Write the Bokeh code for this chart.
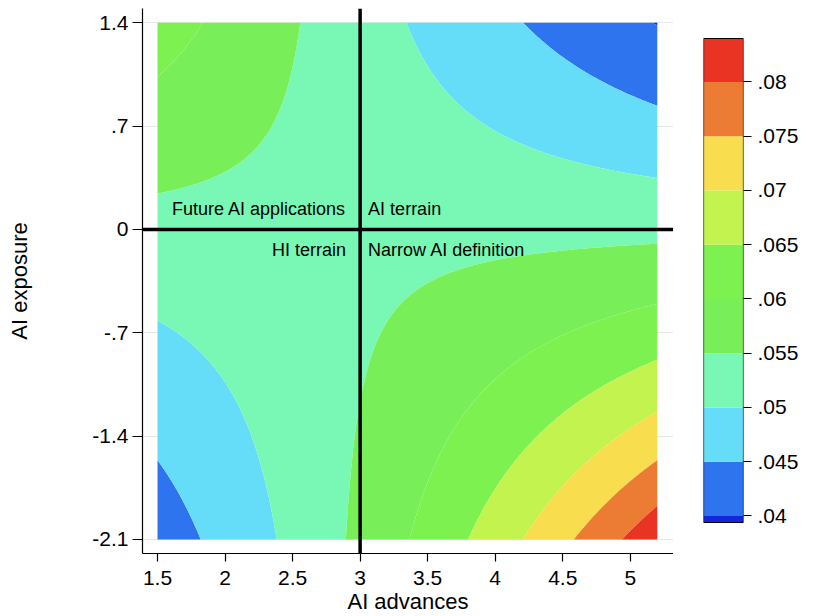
import numpy as np
from bokeh.plotting import figure
from bokeh.layouts import row
from bokeh.models import Range1d, FixedTicker, Span, Label
from bokeh.embed import file_html
from bokeh.resources import INLINE

# ---- data -----------------------------------------------------------------
# Fitted logit surface: logit(p) = b0 + b_adv*adv + b_exp*exp + b_int*adv*exp
b0 = -2.875
b_adv = 0.0018
b_exp = 0.256
b_int = -0.0927

adv_range = [1.5, 5.2]      # AI advances
exp_range = [-2.1, 1.4]     # AI exposure

levels = [0.0394, 0.04, 0.045, 0.05, 0.055, 0.06, 0.065, 0.07, 0.075, 0.08, 0.084]
colors = ["#1426d8", "#2f74ef", "#66ddf8", "#78f8b4", "#78ef58",
          "#7cf150", "#c2f34f", "#f8de4f", "#ec7b33", "#e93424"]

x_ticks = [1.5, 2, 2.5, 3, 3.5, 4, 4.5, 5]
x_tick_labels = ["1.5", "2", "2.5", "3", "3.5", "4", "4.5", "5"]
y_ticks = [-2.1, -1.4, -0.7, 0, 0.7, 1.4]
y_tick_labels = ["-2.1", "-1.4", "-.7", "0", ".7", "1.4"]
cbar_ticks = [0.04, 0.045, 0.05, 0.055, 0.06, 0.065, 0.07, 0.075, 0.08]
cbar_tick_labels = [".04", ".045", ".05", ".055", ".06", ".065", ".07", ".075", ".08"]

ref_x = 3.0
ref_y = 0.0
quadrant_labels = ["Future AI applications", "AI terrain", "HI terrain", "Narrow AI definition"]

FONT = "Liberation Sans"

# ---- surface ---------------------------------------------------------------
xs = np.linspace(adv_range[0], adv_range[1], 300)
ys = np.linspace(exp_range[0], exp_range[1], 300)
X, Y = np.meshgrid(xs, ys)
L = b0 + b_adv * X + b_exp * Y + b_int * X * Y
Z = 1.0 / (1.0 + np.exp(-L))

# ---- shared vertical geometry -------------------------------------------------
H = 616
TOP, BOTTOM = 8, 63            # borders of both figures (row aligns them)
FRAME_H = H - TOP - BOTTOM
CB_TOP, CB_BOT = 38, 522       # pixel rows of the colour bar ends

# ---- main figure -------------------------------------------------------------
p = figure(width=673, height=H, output_backend="svg", toolbar_location=None,
           x_range=Range1d(1.389, 5.32), y_range=Range1d(-2.195, 1.497),
           min_border_left=142, min_border_right=0, min_border_top=TOP, min_border_bottom=BOTTOM)
p.outline_line_color = None
p.background_fill_color = "white"
p.border_fill_color = "white"

p.contour(xs, ys, Z, levels, fill_color=colors, line_color=None)

p.xgrid.grid_line_color = None
p.ygrid.grid_line_color = "#e6e6e6"
p.ygrid.ticker = FixedTicker(ticks=y_ticks)

p.xaxis.ticker = FixedTicker(ticks=x_ticks)
p.xaxis.major_label_overrides = {t: l for t, l in zip(x_ticks, x_tick_labels)}
p.yaxis.ticker = FixedTicker(ticks=y_ticks)
p.yaxis.major_label_overrides = {t: l for t, l in zip(y_ticks, y_tick_labels)}
p.xaxis.axis_label = "AI advances"
p.yaxis.axis_label = "AI exposure"

for ax in (p.xaxis, p.yaxis):
    ax.axis_line_color = "black"
    ax.axis_line_width = 1.2
    ax.major_tick_line_color = "black"
    ax.major_tick_line_width = 1.2
    ax.major_tick_in = 0
    ax.minor_tick_line_color = None
    ax.major_label_text_font = FONT
    ax.major_label_text_font_size = "21px"
    ax.major_label_text_color = "black"
    ax.axis_label_text_font = FONT
    ax.axis_label_text_font_size = "22px"
    ax.axis_label_text_font_style = "normal"
    ax.axis_label_text_color = "black"
p.xaxis.major_tick_out = 8
p.yaxis.major_tick_out = 10
p.xaxis.major_label_standoff = 9
p.xaxis.axis_label_standoff = 1
p.yaxis.major_label_standoff = 4
p.yaxis.axis_label_standoff = 57
p.yaxis.major_label_orientation = "horizontal"

p.add_layout(Span(location=ref_x, dimension="height", line_color="black", line_width=3.5))
p.add_layout(Span(location=ref_y, dimension="width", line_color="black", line_width=3.5))

offsets = [(-14, 20, "right"), (8, 20, "left"), (-14, -21, "right"), (8, -21, "left")]
for txt, (dx, dy, al) in zip(quadrant_labels, offsets):
    p.add_layout(Label(x=ref_x, y=ref_y, x_offset=dx, y_offset=dy, text=txt,
                       text_align=al, text_baseline="middle", text_font=FONT,
                       text_font_size="18px", text_color="black"))

# ---- colour bar figure -------------------------------------------------------
k = (levels[-1] - levels[0]) / (CB_BOT - CB_TOP)          # value per pixel
cy0 = levels[0] - (TOP + FRAME_H - CB_BOT) * k
cy1 = levels[-1] + (CB_TOP - TOP) * k
c = figure(width=161, height=H, output_backend="svg", toolbar_location=None,
           x_range=Range1d(0, 1), y_range=Range1d(cy0, cy1),
           x_axis_location=None, y_axis_location="right",
           min_border_left=30, min_border_right=91, min_border_top=TOP, min_border_bottom=BOTTOM)
c.grid.grid_line_color = None
c.outline_line_color = None
c.quad(left=0, right=1, bottom=levels[:-1], top=levels[1:], fill_color=colors, line_color=None)
c.quad(left=0, right=1, bottom=levels[0], top=levels[-1], fill_color=None,
       line_color="black", line_width=1.2)
c.yaxis.ticker = FixedTicker(ticks=cbar_ticks)
c.yaxis.major_label_overrides = {t: l for t, l in zip(cbar_ticks, cbar_tick_labels)}
c.yaxis.axis_line_color = None
c.yaxis.major_tick_line_color = "black"
c.yaxis.major_tick_line_width = 1.2
c.yaxis.major_tick_out = 8
c.yaxis.major_tick_in = 0
c.yaxis.minor_tick_line_color = None
c.yaxis.major_label_text_font = FONT
c.yaxis.major_label_text_font_size = "21px"
c.yaxis.major_label_text_color = "black"
c.yaxis.major_label_standoff = 6
c.yaxis.major_label_orientation = "horizontal"
c.add_layout(Label(x=2.875, y=(levels[0] + levels[-1]) / 2, text="Predicted probability of ER",
                   angle=np.pi / 2, text_align="center", text_baseline="middle",
                   text_font=FONT, text_font_size="22px", text_color="black"))

layout = row(p, c)
open("out.html", "w").write(file_html(layout, INLINE))
